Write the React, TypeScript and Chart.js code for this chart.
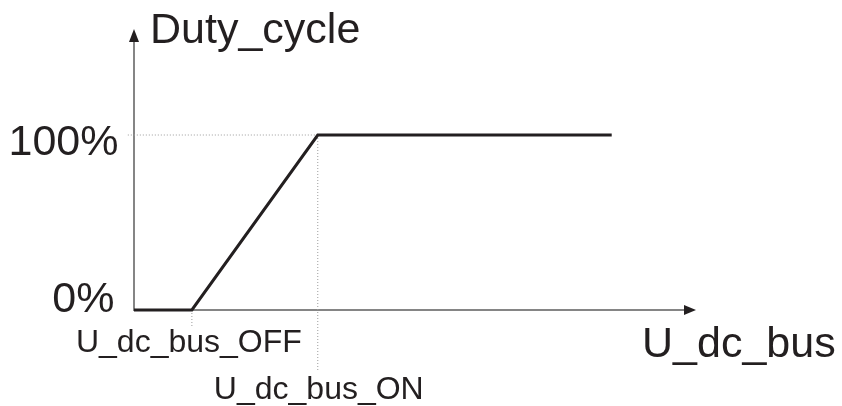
import React, { useEffect, useRef } from "react";
import { Chart, registerables } from "chart.js";

Chart.register(...registerables);

// ---- data ----
const busVoltage = [0, 10.3, 32.7, 85]; // U_dc_bus (arbitrary units)
const dutyCycle = [0, 0, 100, 100]; // %
const xMarkValues = [10.3, 32.7];
const xMarkLabels = ["U_dc_bus_OFF", "U_dc_bus_ON"];
const yTickValues = [0, 100];
const yTickLabels = ["0%", "100%"];
const xAxisTitle = "U_dc_bus";
const yAxisTitle = "Duty_cycle";

const INK = "#231f20";
const AXIS = "#858585";
const GUIDE = "#9c9c9c";
const FONT = "'Liberation Sans', Arial, sans-serif";

const diagramPlugin = {
  id: "diagram",
  beforeDatasetsDraw(chart: any) {
    const { ctx, chartArea } = chart;
    const xs = chart.scales.x;
    const ys = chart.scales.y;
    const x0 = xs.getPixelForValue(0);
    const y0 = ys.getPixelForValue(0);
    ctx.save();
    ctx.strokeStyle = AXIS;
    ctx.fillStyle = INK;
    ctx.lineWidth = 2;
    // y axis
    ctx.beginPath();
    ctx.moveTo(x0, y0 + 1);
    ctx.lineTo(x0, chartArea.top + 10);
    ctx.stroke();
    ctx.beginPath();
    ctx.moveTo(x0, chartArea.top - 1);
    ctx.lineTo(x0 - 5, chartArea.top + 12);
    ctx.lineTo(x0 + 5, chartArea.top + 12);
    ctx.closePath();
    ctx.fill();
    // x axis
    ctx.beginPath();
    ctx.moveTo(x0, y0);
    ctx.lineTo(chartArea.right - 10, y0);
    ctx.stroke();
    ctx.beginPath();
    ctx.moveTo(chartArea.right, y0);
    ctx.lineTo(chartArea.right - 12, y0 - 5);
    ctx.lineTo(chartArea.right - 12, y0 + 5);
    ctx.closePath();
    ctx.fill();
    ctx.restore();
  },
  afterDraw(chart: any) {
    const { ctx, chartArea } = chart;
    const xs = chart.scales.x;
    const ys = chart.scales.y;
    const x0 = xs.getPixelForValue(0);
    ctx.save();
    ctx.fillStyle = INK;
    ctx.textBaseline = "alphabetic";
    // axis titles
    ctx.font = `43px ${FONT}`;
    ctx.textAlign = "left";
    ctx.fillText(yAxisTitle, x0 + 16, chartArea.top + 13);
    ctx.fillText(xAxisTitle, chartArea.right - 54, ys.getPixelForValue(0) + 47);
    // y tick labels
    ctx.textAlign = "right";
    const yOffsets = [2, 20];
    const xOffsets = [-19.5, -15.5];
    yTickValues.forEach((v, i) => {
      ctx.fillText(yTickLabels[i], x0 + xOffsets[i], ys.getPixelForValue(v) + yOffsets[i]);
    });
    // x mark labels
    ctx.font = `32px ${FONT}`;
    ctx.textAlign = "center";
    const lblDx = [-3, 1];
    const lblDy = [42, 89];
    xMarkValues.forEach((v, i) => {
      ctx.fillText(xMarkLabels[i], xs.getPixelForValue(v) + lblDx[i], ys.getPixelForValue(0) + lblDy[i]);
    });
    ctx.restore();
  },
};

export default function App() {
  const ref = useRef<HTMLCanvasElement | null>(null);
  useEffect(() => {
    document.body.style.margin = "0";
    const canvas = ref.current;
    if (!canvas) return;
    const guide = {
      borderColor: GUIDE,
      borderWidth: 1,
      borderDash: [1, 2],
      pointRadius: 0,
      showLine: true,
      clip: false as any,
      order: 2,
    };
    const chart = new Chart(canvas, {
      type: "scatter",
      data: {
        datasets: [
          {
            data: busVoltage.map((x, i) => ({ x, y: dutyCycle[i] })),
            borderColor: INK,
            borderWidth: 3,
            pointRadius: 0,
            showLine: true,
            tension: 0,
            clip: false as any,
            order: 1,
            borderJoinStyle: "miter",
          } as any,
          { ...guide, data: [{ x: -1.1, y: 100 }, { x: xMarkValues[1], y: 100 }] },
          { ...guide, data: [{ x: xMarkValues[1], y: 100 }, { x: xMarkValues[1], y: -34.3 }] },
          { ...guide, data: [{ x: xMarkValues[0], y: 0 }, { x: xMarkValues[0], y: -9.7 }] },
        ],
      },
      options: {
        responsive: false,
        animation: false,
        layout: { padding: { left: 134, right: 146, top: 30, bottom: 96 } },
        plugins: { legend: { display: false }, tooltip: { enabled: false } },
        events: [],
        scales: {
          x: { type: "linear", min: 0, max: 100, display: false },
          y: { type: "linear", min: 0, max: 160, display: false },
        },
      },
      plugins: [diagramPlugin],
    });
    return () => chart.destroy();
  }, []);
  return (
    <div style={{ width: 842, height: 406, background: "#fff" }}>
      <canvas ref={ref} width={842} height={406} style={{ display: "block" }} />
    </div>
  );
}
